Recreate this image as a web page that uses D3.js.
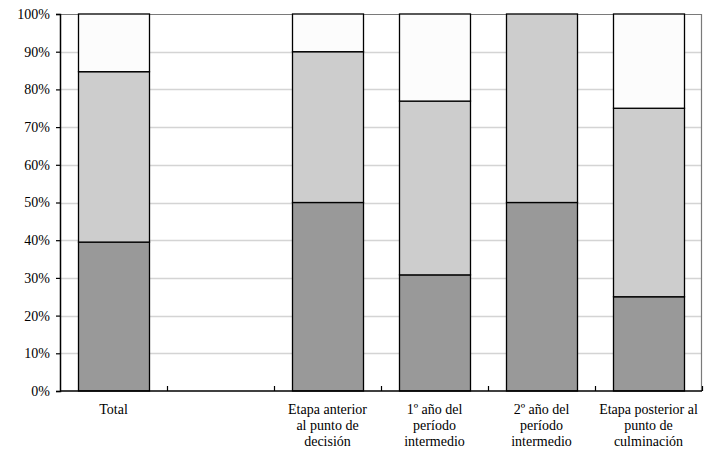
<!DOCTYPE html>
<html>
<head>
<meta charset="utf-8">
<script src="https://cdn.jsdelivr.net/npm/d3@7"></script>
</head>
<body style="margin:0">
<svg id="s" width="720" height="459"></svg>
<script>
// Categories (the second slot is intentionally left empty)
const categories = ["Total", "", "Etapa anterior\nal punto de\ndecisión", "1º año del\nperíodo\nintermedio", "2º año del\nperíodo\nintermedio", "Etapa posterior al\npunto de\nculminación"];
const hasBar = [true, false, true, true, true, true];

// Share of each segment (percent), bottom to top
const seriesDark  = [39.5, 0, 50, 30.8, 50, 25];
const seriesLight = [45.2, 0, 40, 46.1, 50, 50];
const seriesWhite = [15.3, 0, 10, 23.1, 0, 25];

const yTicks = [0, 10, 20, 30, 40, 50, 60, 70, 80, 90, 100];

const seriesKeys = ["dark", "light", "white"];
const fills = { dark: "#999999", light: "#cdcdcd", white: "#fcfcfc" };
const FONT = "'Liberation Serif', Tinos, 'Times New Roman', serif";
const FONT_SIZE = "14px";
const LINE_STEP = 16;

const rows = categories.map((c, i) => ({
  key: i, show: hasBar[i],
  dark: seriesDark[i], light: seriesLight[i], white: seriesWhite[i]
}));

const margin = { top: 14, right: 18, bottom: 68, left: 60 };
const width = 720, height = 459;
const iw = width - margin.left - margin.right;
const ih = height - margin.top - margin.bottom;

const svg = d3.select("#s");
svg.append("rect").attr("width", width).attr("height", height).attr("fill", "#ffffff");
const g = svg.append("g").attr("transform", `translate(${margin.left},${margin.top})`);

const x = d3.scaleBand().domain(rows.map(d => d.key)).range([0, iw]).paddingInner(0.34).paddingOuter(0.17);
const y = d3.scaleLinear().domain([0, 100]).range([ih, 0]);

// Horizontal gridlines
g.append("g").selectAll("line").data(yTicks.filter(t => t > 0 && t < 100)).join("line")
  .attr("x1", 0).attr("x2", iw)
  .attr("y1", d => Math.round(y(d)) + 0.5).attr("y2", d => Math.round(y(d)) + 0.5)
  .attr("stroke", "#d4d4d4").attr("stroke-width", 1.5);

// Plot frame (top and right)
g.append("path")
  .attr("d", `M0,0.5H${iw - 0.5}V${ih}`)
  .attr("fill", "none").attr("stroke", "#7a7a7a").attr("stroke-width", 1.2);

// Stacked bars
const stack = d3.stack().keys(seriesKeys);
const stacked = stack(rows.filter(d => d.show));
g.append("g").selectAll("g").data(stacked).join("g")
  .attr("fill", s => fills[s.key])
  .selectAll("rect").data(s => s).join("rect")
  .attr("x", d => Math.round(x(d.data.key)) + 0.5)
  .attr("width", Math.round(x.bandwidth()))
  .attr("y", d => y(d[1]))
  .attr("height", d => y(d[0]) - y(d[1]))
  .attr("stroke", "#000").attr("stroke-width", 1.3);

// Y axis
const yAxis = d3.axisLeft(y).tickValues(yTicks).tickFormat(d => d + "%").tickSize(4).tickPadding(6);
const ya = g.append("g").call(yAxis);
ya.attr("font-family", null).attr("font-size", null);
ya.select(".domain").attr("stroke", "#000").attr("stroke-width", 1.5);
ya.selectAll(".tick line").attr("stroke", "#000").attr("stroke-width", 1.2);
ya.selectAll("text").attr("fill", "#000")
  .style("font-family", FONT).style("font-size", FONT_SIZE);

// X axis baseline with inward boundary ticks
g.append("line").attr("x1", 0).attr("x2", iw).attr("y1", ih).attr("y2", ih)
  .attr("stroke", "#000").attr("stroke-width", 1.5);
const step = x.step();
g.append("g").selectAll("line").data(d3.range(1, categories.length + 1)).join("line")
  .attr("x1", i => Math.round(i * step) + 0.5).attr("x2", i => Math.round(i * step) + 0.5)
  .attr("y1", ih).attr("y2", ih - 5)
  .attr("stroke", "#000").attr("stroke-width", 1.2);

// Category labels, one tspan per line
const labels = g.append("g")
  .selectAll("text").data(rows).join("text")
  .attr("x", d => x(d.key) + x.bandwidth() / 2)
  .attr("y", ih + 23)
  .attr("text-anchor", "middle")
  .attr("fill", "#000")
  .style("font-family", FONT).style("font-size", FONT_SIZE);
labels.each(function(d) {
  const lines = categories[d.key].split("\n");
  d3.select(this).selectAll("tspan").data(lines).join("tspan")
    .attr("x", x(d.key) + x.bandwidth() / 2)
    .attr("dy", (l, i) => i === 0 ? 0 : LINE_STEP)
    .text(l => l);
});
</script>
</body>
</html>
